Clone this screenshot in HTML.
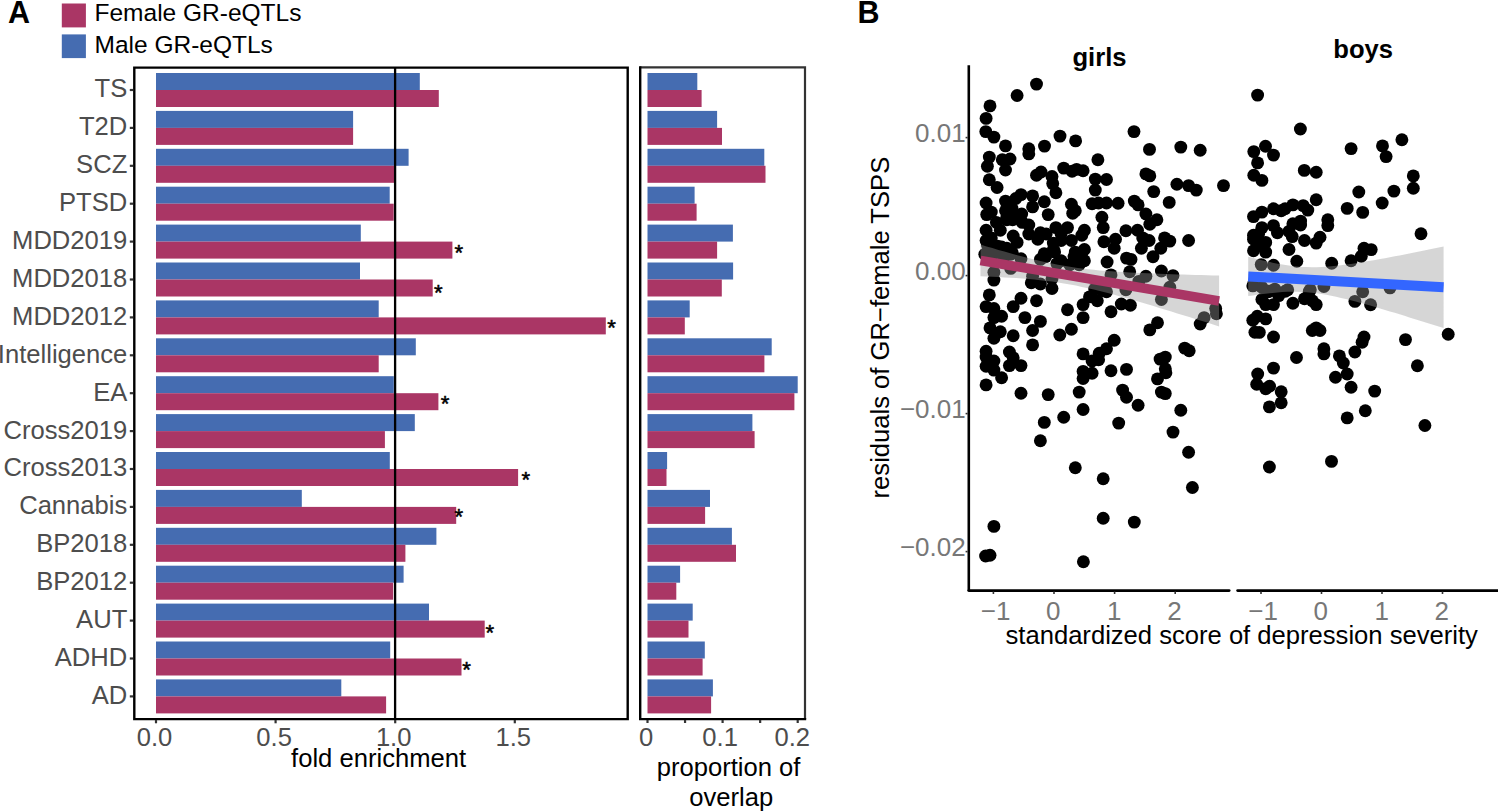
<!DOCTYPE html><html><head><meta charset="utf-8"><style>html,body{margin:0;padding:0;background:#fff;width:1498px;height:812px;overflow:hidden}svg{display:block}text{font-family:"Liberation Sans",sans-serif}</style></head><body>
<svg width="1498" height="812" viewBox="0 0 1498 812">
<rect width="1498" height="812" fill="#fff"/>
<text x="8" y="22.7" font-size="30.5" font-weight="bold" fill="#000">A</text>
<text x="857.5" y="22.6" font-size="30.5" font-weight="bold" fill="#000">B</text>
<rect x="61.8" y="3.5" width="24.1" height="23.9" fill="#AA3665"/>
<rect x="61.8" y="34.4" width="24.1" height="23.7" fill="#456CB1"/>
<text x="94.5" y="20.5" font-size="24.5" fill="#000">Female GR-eQTLs</text>
<text x="94.5" y="53.1" font-size="24.5" fill="#000">Male GR-eQTLs</text>
<rect x="156.0" y="73.00" width="263.80" height="17.0" fill="#456CB1"/>
<rect x="156.0" y="90.00" width="282.80" height="17.0" fill="#AA3665"/>
<rect x="156.0" y="110.90" width="197.10" height="17.0" fill="#456CB1"/>
<rect x="156.0" y="127.90" width="197.10" height="17.0" fill="#AA3665"/>
<rect x="156.0" y="148.80" width="252.60" height="17.0" fill="#456CB1"/>
<rect x="156.0" y="165.80" width="238.10" height="17.0" fill="#AA3665"/>
<rect x="156.0" y="186.70" width="233.70" height="17.0" fill="#456CB1"/>
<rect x="156.0" y="203.70" width="237.70" height="17.0" fill="#AA3665"/>
<rect x="156.0" y="224.60" width="204.80" height="17.0" fill="#456CB1"/>
<rect x="156.0" y="241.60" width="296.40" height="17.0" fill="#AA3665"/>
<rect x="156.0" y="262.50" width="204.00" height="17.0" fill="#456CB1"/>
<rect x="156.0" y="279.50" width="276.70" height="17.0" fill="#AA3665"/>
<rect x="156.0" y="300.40" width="222.70" height="17.0" fill="#456CB1"/>
<rect x="156.0" y="317.40" width="449.80" height="17.0" fill="#AA3665"/>
<rect x="156.0" y="338.30" width="259.80" height="17.0" fill="#456CB1"/>
<rect x="156.0" y="355.30" width="222.70" height="17.0" fill="#AA3665"/>
<rect x="156.0" y="376.20" width="237.80" height="17.0" fill="#456CB1"/>
<rect x="156.0" y="393.20" width="282.40" height="17.0" fill="#AA3665"/>
<rect x="156.0" y="414.10" width="258.80" height="17.0" fill="#456CB1"/>
<rect x="156.0" y="431.10" width="228.90" height="17.0" fill="#AA3665"/>
<rect x="156.0" y="452.00" width="233.80" height="17.0" fill="#456CB1"/>
<rect x="156.0" y="469.00" width="362.10" height="17.0" fill="#AA3665"/>
<rect x="156.0" y="489.90" width="145.80" height="17.0" fill="#456CB1"/>
<rect x="156.0" y="506.90" width="300.20" height="17.0" fill="#AA3665"/>
<rect x="156.0" y="527.80" width="280.40" height="17.0" fill="#456CB1"/>
<rect x="156.0" y="544.80" width="249.40" height="17.0" fill="#AA3665"/>
<rect x="156.0" y="565.70" width="247.60" height="17.0" fill="#456CB1"/>
<rect x="156.0" y="582.70" width="237.20" height="17.0" fill="#AA3665"/>
<rect x="156.0" y="603.60" width="273.00" height="17.0" fill="#456CB1"/>
<rect x="156.0" y="620.60" width="328.70" height="17.0" fill="#AA3665"/>
<rect x="156.0" y="641.50" width="234.20" height="17.0" fill="#456CB1"/>
<rect x="156.0" y="658.50" width="305.50" height="17.0" fill="#AA3665"/>
<rect x="156.0" y="679.40" width="185.30" height="17.0" fill="#456CB1"/>
<rect x="156.0" y="696.40" width="230.10" height="17.0" fill="#AA3665"/>
<rect x="647.5" y="73.00" width="49.80" height="17.0" fill="#456CB1"/>
<rect x="647.5" y="90.00" width="54.10" height="17.0" fill="#AA3665"/>
<rect x="647.5" y="110.90" width="69.60" height="17.0" fill="#456CB1"/>
<rect x="647.5" y="127.90" width="74.50" height="17.0" fill="#AA3665"/>
<rect x="647.5" y="148.80" width="116.80" height="17.0" fill="#456CB1"/>
<rect x="647.5" y="165.80" width="118.00" height="17.0" fill="#AA3665"/>
<rect x="647.5" y="186.70" width="47.10" height="17.0" fill="#456CB1"/>
<rect x="647.5" y="203.70" width="49.10" height="17.0" fill="#AA3665"/>
<rect x="647.5" y="224.60" width="85.40" height="17.0" fill="#456CB1"/>
<rect x="647.5" y="241.60" width="69.60" height="17.0" fill="#AA3665"/>
<rect x="647.5" y="262.50" width="85.60" height="17.0" fill="#456CB1"/>
<rect x="647.5" y="279.50" width="74.30" height="17.0" fill="#AA3665"/>
<rect x="647.5" y="300.40" width="42.20" height="17.0" fill="#456CB1"/>
<rect x="647.5" y="317.40" width="37.30" height="17.0" fill="#AA3665"/>
<rect x="647.5" y="338.30" width="124.20" height="17.0" fill="#456CB1"/>
<rect x="647.5" y="355.30" width="116.90" height="17.0" fill="#AA3665"/>
<rect x="647.5" y="376.20" width="150.20" height="17.0" fill="#456CB1"/>
<rect x="647.5" y="393.20" width="146.90" height="17.0" fill="#AA3665"/>
<rect x="647.5" y="414.10" width="104.90" height="17.0" fill="#456CB1"/>
<rect x="647.5" y="431.10" width="107.10" height="17.0" fill="#AA3665"/>
<rect x="647.5" y="452.00" width="19.60" height="17.0" fill="#456CB1"/>
<rect x="647.5" y="469.00" width="19.00" height="17.0" fill="#AA3665"/>
<rect x="647.5" y="489.90" width="62.50" height="17.0" fill="#456CB1"/>
<rect x="647.5" y="506.90" width="57.60" height="17.0" fill="#AA3665"/>
<rect x="647.5" y="527.80" width="84.40" height="17.0" fill="#456CB1"/>
<rect x="647.5" y="544.80" width="88.50" height="17.0" fill="#AA3665"/>
<rect x="647.5" y="565.70" width="32.60" height="17.0" fill="#456CB1"/>
<rect x="647.5" y="582.70" width="28.80" height="17.0" fill="#AA3665"/>
<rect x="647.5" y="603.60" width="45.20" height="17.0" fill="#456CB1"/>
<rect x="647.5" y="620.60" width="41.00" height="17.0" fill="#AA3665"/>
<rect x="647.5" y="641.50" width="57.30" height="17.0" fill="#456CB1"/>
<rect x="647.5" y="658.50" width="55.10" height="17.0" fill="#AA3665"/>
<rect x="647.5" y="679.40" width="65.40" height="17.0" fill="#456CB1"/>
<rect x="647.5" y="696.40" width="63.60" height="17.0" fill="#AA3665"/>
<text x="454.5" y="259.6" font-size="22.2" fill="#000" stroke="#000" stroke-width="0.5">*</text>
<text x="433.9" y="299.9" font-size="22.2" fill="#000" stroke="#000" stroke-width="0.5">*</text>
<text x="607.3" y="335.2" font-size="22.2" fill="#000" stroke="#000" stroke-width="0.5">*</text>
<text x="440.7" y="410.7" font-size="22.2" fill="#000" stroke="#000" stroke-width="0.5">*</text>
<text x="521.6" y="486.8" font-size="22.2" fill="#000" stroke="#000" stroke-width="0.5">*</text>
<text x="454.6" y="524.4" font-size="22.2" fill="#000" stroke="#000" stroke-width="0.5">*</text>
<text x="485.4" y="640.3" font-size="22.2" fill="#000" stroke="#000" stroke-width="0.5">*</text>
<text x="462.3" y="676.5" font-size="22.2" fill="#000" stroke="#000" stroke-width="0.5">*</text>
<line x1="395.1" y1="67.5" x2="395.1" y2="719" stroke="#000" stroke-width="2.3"/>
<path d="M134.3 67.6 H627.7 V719.1 H134.3 Z" fill="none" stroke="#000" stroke-width="2.4"/>
<path d="M640.2 67.4 H805 V719.1" fill="none" stroke="#333" stroke-width="2.2"/>
<path d="M640.2 67.4 V719.1 H805" fill="none" stroke="#000" stroke-width="2.4" stroke-linecap="square"/>
<line x1="129.8" y1="90.00" x2="133" y2="90.00" stroke="#333" stroke-width="2.2"/>
<text x="127.3" y="97.40" font-size="25.6" fill="#4D4D4D" text-anchor="end">TS</text>
<line x1="129.8" y1="127.90" x2="133" y2="127.90" stroke="#333" stroke-width="2.2"/>
<text x="127.3" y="135.30" font-size="25.6" fill="#4D4D4D" text-anchor="end">T2D</text>
<line x1="129.8" y1="165.80" x2="133" y2="165.80" stroke="#333" stroke-width="2.2"/>
<text x="127.3" y="173.20" font-size="25.6" fill="#4D4D4D" text-anchor="end">SCZ</text>
<line x1="129.8" y1="203.70" x2="133" y2="203.70" stroke="#333" stroke-width="2.2"/>
<text x="127.3" y="211.10" font-size="25.6" fill="#4D4D4D" text-anchor="end">PTSD</text>
<line x1="129.8" y1="241.60" x2="133" y2="241.60" stroke="#333" stroke-width="2.2"/>
<text x="127.3" y="249.00" font-size="25.6" fill="#4D4D4D" text-anchor="end">MDD2019</text>
<line x1="129.8" y1="279.50" x2="133" y2="279.50" stroke="#333" stroke-width="2.2"/>
<text x="127.3" y="286.90" font-size="25.6" fill="#4D4D4D" text-anchor="end">MDD2018</text>
<line x1="129.8" y1="317.40" x2="133" y2="317.40" stroke="#333" stroke-width="2.2"/>
<text x="127.3" y="324.80" font-size="25.6" fill="#4D4D4D" text-anchor="end">MDD2012</text>
<line x1="129.8" y1="355.30" x2="133" y2="355.30" stroke="#333" stroke-width="2.2"/>
<text x="127.3" y="362.70" font-size="25.6" fill="#4D4D4D" text-anchor="end">Intelligence</text>
<line x1="129.8" y1="393.20" x2="133" y2="393.20" stroke="#333" stroke-width="2.2"/>
<text x="127.3" y="400.60" font-size="25.6" fill="#4D4D4D" text-anchor="end">EA</text>
<line x1="129.8" y1="431.10" x2="133" y2="431.10" stroke="#333" stroke-width="2.2"/>
<text x="127.3" y="438.50" font-size="25.6" fill="#4D4D4D" text-anchor="end">Cross2019</text>
<line x1="129.8" y1="469.00" x2="133" y2="469.00" stroke="#333" stroke-width="2.2"/>
<text x="127.3" y="476.40" font-size="25.6" fill="#4D4D4D" text-anchor="end">Cross2013</text>
<line x1="129.8" y1="506.90" x2="133" y2="506.90" stroke="#333" stroke-width="2.2"/>
<text x="127.3" y="514.30" font-size="25.6" fill="#4D4D4D" text-anchor="end">Cannabis</text>
<line x1="129.8" y1="544.80" x2="133" y2="544.80" stroke="#333" stroke-width="2.2"/>
<text x="127.3" y="552.20" font-size="25.6" fill="#4D4D4D" text-anchor="end">BP2018</text>
<line x1="129.8" y1="582.70" x2="133" y2="582.70" stroke="#333" stroke-width="2.2"/>
<text x="127.3" y="590.10" font-size="25.6" fill="#4D4D4D" text-anchor="end">BP2012</text>
<line x1="129.8" y1="620.60" x2="133" y2="620.60" stroke="#333" stroke-width="2.2"/>
<text x="127.3" y="628.00" font-size="25.6" fill="#4D4D4D" text-anchor="end">AUT</text>
<line x1="129.8" y1="658.50" x2="133" y2="658.50" stroke="#333" stroke-width="2.2"/>
<text x="127.3" y="665.90" font-size="25.6" fill="#4D4D4D" text-anchor="end">ADHD</text>
<line x1="129.8" y1="696.40" x2="133" y2="696.40" stroke="#333" stroke-width="2.2"/>
<text x="127.3" y="703.80" font-size="25.6" fill="#4D4D4D" text-anchor="end">AD</text>
<line x1="156.00" y1="720" x2="156.00" y2="723.3" stroke="#333" stroke-width="2.2"/>
<text x="154.50" y="746.2" font-size="25.6" fill="#4D4D4D" text-anchor="middle">0.0</text>
<line x1="275.60" y1="720" x2="275.60" y2="723.3" stroke="#333" stroke-width="2.2"/>
<text x="274.10" y="746.2" font-size="25.6" fill="#4D4D4D" text-anchor="middle">0.5</text>
<line x1="395.20" y1="720" x2="395.20" y2="723.3" stroke="#333" stroke-width="2.2"/>
<text x="393.70" y="746.2" font-size="25.6" fill="#4D4D4D" text-anchor="middle">1.0</text>
<line x1="514.80" y1="720" x2="514.80" y2="723.3" stroke="#333" stroke-width="2.2"/>
<text x="513.30" y="746.2" font-size="25.6" fill="#4D4D4D" text-anchor="middle">1.5</text>
<line x1="647.50" y1="720" x2="647.50" y2="723" stroke="#333" stroke-width="2.2"/>
<line x1="685.05" y1="720" x2="685.05" y2="723" stroke="#333" stroke-width="2.2"/>
<line x1="722.60" y1="720" x2="722.60" y2="723" stroke="#333" stroke-width="2.2"/>
<line x1="760.15" y1="720" x2="760.15" y2="723" stroke="#333" stroke-width="2.2"/>
<line x1="797.70" y1="720" x2="797.70" y2="723" stroke="#333" stroke-width="2.2"/>
<text x="646.00" y="746.2" font-size="25.6" fill="#4D4D4D" text-anchor="middle">0</text>
<text x="720.10" y="746.2" font-size="25.6" fill="#4D4D4D" text-anchor="middle">0.1</text>
<text x="792.30" y="746.2" font-size="25.6" fill="#4D4D4D" text-anchor="middle">0.2</text>
<text x="378.6" y="767.2" font-size="25.6" fill="#000" text-anchor="middle">fold enrichment</text>
<text x="728.6" y="775.7" font-size="25.6" fill="#000" text-anchor="middle">proportion of</text>
<text x="731.3" y="806.4" font-size="25.6" fill="#000" text-anchor="middle">overlap</text>
<text x="1099.5" y="65.5" font-size="25.6" font-weight="bold" fill="#000" text-anchor="middle">girls</text>
<text x="1363.2" y="58.4" font-size="25.6" font-weight="bold" fill="#000" text-anchor="middle">boys</text>
<g fill="#000"><circle cx="1036.5" cy="84.1" r="6.45"/><circle cx="1017.1" cy="95.5" r="6.45"/><circle cx="990.0" cy="105.9" r="6.45"/><circle cx="986.1" cy="118.4" r="6.45"/><circle cx="985.8" cy="131.6" r="6.45"/><circle cx="993.9" cy="137.1" r="6.45"/><circle cx="1005.5" cy="145.9" r="6.45"/><circle cx="1028.8" cy="148.8" r="6.45"/><circle cx="1044.5" cy="146.1" r="6.45"/><circle cx="1060.0" cy="136.1" r="6.45"/><circle cx="1075.6" cy="140.9" r="6.45"/><circle cx="989.3" cy="157.1" r="6.45"/><circle cx="987.4" cy="166.2" r="6.45"/><circle cx="1002.3" cy="159.7" r="6.45"/><circle cx="1010.0" cy="159.0" r="6.45"/><circle cx="1005.5" cy="170.0" r="6.45"/><circle cx="1028.8" cy="153.9" r="6.45"/><circle cx="1097.9" cy="159.7" r="6.45"/><circle cx="1063.7" cy="168.1" r="6.45"/><circle cx="1072.1" cy="171.3" r="6.45"/><circle cx="1076.6" cy="169.4" r="6.45"/><circle cx="1083.1" cy="170.7" r="6.45"/><circle cx="1036.5" cy="175.2" r="6.45"/><circle cx="1041.0" cy="172.0" r="6.45"/><circle cx="1052.0" cy="176.5" r="6.45"/><circle cx="1052.7" cy="183.6" r="6.45"/><circle cx="1055.9" cy="192.7" r="6.45"/><circle cx="1095.3" cy="179.1" r="6.45"/><circle cx="1095.3" cy="190.1" r="6.45"/><circle cx="989.3" cy="179.7" r="6.45"/><circle cx="997.1" cy="187.5" r="6.45"/><circle cx="986.1" cy="203.0" r="6.45"/><circle cx="986.7" cy="214.6" r="6.45"/><circle cx="991.3" cy="212.1" r="6.45"/><circle cx="1005.5" cy="201.1" r="6.45"/><circle cx="1021.0" cy="194.6" r="6.45"/><circle cx="1015.8" cy="198.5" r="6.45"/><circle cx="1032.6" cy="195.9" r="6.45"/><circle cx="1032.6" cy="206.9" r="6.45"/><circle cx="1044.3" cy="201.7" r="6.45"/><circle cx="1048.2" cy="214.6" r="6.45"/><circle cx="1071.4" cy="204.3" r="6.45"/><circle cx="1075.3" cy="210.8" r="6.45"/><circle cx="1072.7" cy="213.3" r="6.45"/><circle cx="1092.1" cy="203.7" r="6.45"/><circle cx="1098.6" cy="203.0" r="6.45"/><circle cx="986.1" cy="230.2" r="6.45"/><circle cx="1000.3" cy="230.2" r="6.45"/><circle cx="1005.5" cy="210.8" r="6.45"/><circle cx="1012.6" cy="219.8" r="6.45"/><circle cx="1021.7" cy="214.0" r="6.45"/><circle cx="1028.8" cy="225.0" r="6.45"/><circle cx="1013.2" cy="236.0" r="6.45"/><circle cx="1017.1" cy="242.4" r="6.45"/><circle cx="986.1" cy="240.5" r="6.45"/><circle cx="991.3" cy="237.9" r="6.45"/><circle cx="1001.6" cy="247.0" r="6.45"/><circle cx="996.4" cy="222.4" r="6.45"/><circle cx="1006.8" cy="217.2" r="6.45"/><circle cx="1028.8" cy="234.0" r="6.45"/><circle cx="1037.8" cy="239.2" r="6.45"/><circle cx="1046.2" cy="234.0" r="6.45"/><circle cx="1055.9" cy="227.6" r="6.45"/><circle cx="1067.5" cy="227.6" r="6.45"/><circle cx="1053.3" cy="243.1" r="6.45"/><circle cx="1053.3" cy="249.5" r="6.45"/><circle cx="1061.1" cy="234.0" r="6.45"/><circle cx="1071.4" cy="240.5" r="6.45"/><circle cx="1084.4" cy="230.2" r="6.45"/><circle cx="1081.8" cy="235.3" r="6.45"/><circle cx="1084.4" cy="249.5" r="6.45"/><circle cx="1075.3" cy="252.1" r="6.45"/><circle cx="1134.0" cy="131.6" r="6.45"/><circle cx="1149.5" cy="149.4" r="6.45"/><circle cx="1180.8" cy="147.1" r="6.45"/><circle cx="1200.2" cy="150.3" r="6.45"/><circle cx="1145.9" cy="173.9" r="6.45"/><circle cx="1149.8" cy="175.9" r="6.45"/><circle cx="1106.5" cy="179.5" r="6.45"/><circle cx="1153.7" cy="191.6" r="6.45"/><circle cx="1176.9" cy="184.3" r="6.45"/><circle cx="1188.6" cy="185.6" r="6.45"/><circle cx="1196.3" cy="190.1" r="6.45"/><circle cx="1223.5" cy="185.6" r="6.45"/><circle cx="1106.5" cy="203.0" r="6.45"/><circle cx="1118.1" cy="203.3" r="6.45"/><circle cx="1134.3" cy="201.1" r="6.45"/><circle cx="1138.1" cy="204.9" r="6.45"/><circle cx="1169.2" cy="202.4" r="6.45"/><circle cx="1145.9" cy="214.0" r="6.45"/><circle cx="1156.9" cy="219.8" r="6.45"/><circle cx="1149.8" cy="224.3" r="6.45"/><circle cx="1101.9" cy="217.2" r="6.45"/><circle cx="1103.2" cy="227.6" r="6.45"/><circle cx="1125.9" cy="230.8" r="6.45"/><circle cx="1137.5" cy="230.2" r="6.45"/><circle cx="1115.5" cy="239.2" r="6.45"/><circle cx="1103.9" cy="241.8" r="6.45"/><circle cx="1114.2" cy="248.3" r="6.45"/><circle cx="1142.7" cy="237.9" r="6.45"/><circle cx="1149.1" cy="240.5" r="6.45"/><circle cx="1141.4" cy="248.3" r="6.45"/><circle cx="1164.6" cy="237.9" r="6.45"/><circle cx="1169.8" cy="241.1" r="6.45"/><circle cx="1160.8" cy="248.3" r="6.45"/><circle cx="1188.6" cy="240.5" r="6.45"/><circle cx="984.8" cy="254.2" r="6.45"/><circle cx="1000.3" cy="252.9" r="6.45"/><circle cx="1010.7" cy="254.2" r="6.45"/><circle cx="1021.0" cy="258.7" r="6.45"/><circle cx="993.9" cy="272.3" r="6.45"/><circle cx="993.9" cy="280.1" r="6.45"/><circle cx="1010.7" cy="268.4" r="6.45"/><circle cx="1032.6" cy="276.2" r="6.45"/><circle cx="1031.3" cy="282.7" r="6.45"/><circle cx="1040.4" cy="284.0" r="6.45"/><circle cx="1052.0" cy="278.8" r="6.45"/><circle cx="1052.0" cy="288.5" r="6.45"/><circle cx="1045.6" cy="256.8" r="6.45"/><circle cx="1040.4" cy="259.4" r="6.45"/><circle cx="1061.1" cy="260.7" r="6.45"/><circle cx="1074.0" cy="256.8" r="6.45"/><circle cx="1081.8" cy="252.9" r="6.45"/><circle cx="1084.4" cy="260.7" r="6.45"/><circle cx="1094.7" cy="289.1" r="6.45"/><circle cx="1097.3" cy="300.8" r="6.45"/><circle cx="1089.5" cy="296.9" r="6.45"/><circle cx="1083.1" cy="304.6" r="6.45"/><circle cx="1083.1" cy="317.6" r="6.45"/><circle cx="1067.5" cy="309.8" r="6.45"/><circle cx="1036.5" cy="300.8" r="6.45"/><circle cx="1021.0" cy="298.2" r="6.45"/><circle cx="1013.2" cy="306.6" r="6.45"/><circle cx="989.3" cy="294.9" r="6.45"/><circle cx="986.1" cy="306.6" r="6.45"/><circle cx="993.9" cy="308.5" r="6.45"/><circle cx="1001.6" cy="316.3" r="6.45"/><circle cx="993.9" cy="317.6" r="6.45"/><circle cx="990.0" cy="327.9" r="6.45"/><circle cx="1000.3" cy="331.8" r="6.45"/><circle cx="993.9" cy="338.3" r="6.45"/><circle cx="1024.9" cy="317.6" r="6.45"/><circle cx="1040.4" cy="321.4" r="6.45"/><circle cx="1032.6" cy="330.5" r="6.45"/><circle cx="1013.2" cy="335.7" r="6.45"/><circle cx="1059.8" cy="335.0" r="6.45"/><circle cx="1071.4" cy="329.2" r="6.45"/><circle cx="1126.5" cy="258.1" r="6.45"/><circle cx="1131.0" cy="259.4" r="6.45"/><circle cx="1153.0" cy="256.8" r="6.45"/><circle cx="1107.1" cy="262.0" r="6.45"/><circle cx="1129.7" cy="271.7" r="6.45"/><circle cx="1145.9" cy="276.2" r="6.45"/><circle cx="1138.8" cy="281.4" r="6.45"/><circle cx="1161.4" cy="271.0" r="6.45"/><circle cx="1173.0" cy="275.6" r="6.45"/><circle cx="1169.8" cy="287.2" r="6.45"/><circle cx="1161.4" cy="299.5" r="6.45"/><circle cx="1111.0" cy="274.9" r="6.45"/><circle cx="1125.9" cy="289.8" r="6.45"/><circle cx="1106.5" cy="291.7" r="6.45"/><circle cx="1121.3" cy="304.0" r="6.45"/><circle cx="1130.4" cy="305.3" r="6.45"/><circle cx="1111.0" cy="311.8" r="6.45"/><circle cx="1157.5" cy="322.7" r="6.45"/><circle cx="1149.8" cy="329.9" r="6.45"/><circle cx="1215.7" cy="308.5" r="6.45"/><circle cx="1216.4" cy="313.7" r="6.45"/><circle cx="1204.1" cy="317.6" r="6.45"/><circle cx="1200.2" cy="324.0" r="6.45"/><circle cx="1114.2" cy="340.2" r="6.45"/><circle cx="1032.6" cy="344.9" r="6.45"/><circle cx="986.1" cy="351.3" r="6.45"/><circle cx="986.1" cy="357.1" r="6.45"/><circle cx="993.9" cy="361.0" r="6.45"/><circle cx="986.1" cy="366.2" r="6.45"/><circle cx="993.9" cy="370.1" r="6.45"/><circle cx="1001.6" cy="377.8" r="6.45"/><circle cx="1009.4" cy="352.0" r="6.45"/><circle cx="1013.2" cy="357.8" r="6.45"/><circle cx="1009.4" cy="365.6" r="6.45"/><circle cx="1021.0" cy="365.6" r="6.45"/><circle cx="986.1" cy="384.9" r="6.45"/><circle cx="1021.0" cy="393.3" r="6.45"/><circle cx="1048.2" cy="394.6" r="6.45"/><circle cx="1083.1" cy="353.9" r="6.45"/><circle cx="1092.1" cy="361.0" r="6.45"/><circle cx="1099.2" cy="353.3" r="6.45"/><circle cx="1098.6" cy="359.7" r="6.45"/><circle cx="1083.1" cy="371.4" r="6.45"/><circle cx="1092.1" cy="373.3" r="6.45"/><circle cx="1083.1" cy="378.5" r="6.45"/><circle cx="1079.2" cy="392.1" r="6.45"/><circle cx="1083.1" cy="409.5" r="6.45"/><circle cx="1063.7" cy="417.3" r="6.45"/><circle cx="1044.3" cy="422.4" r="6.45"/><circle cx="1106.5" cy="348.7" r="6.45"/><circle cx="1111.0" cy="370.7" r="6.45"/><circle cx="1126.5" cy="369.4" r="6.45"/><circle cx="1122.6" cy="390.1" r="6.45"/><circle cx="1126.5" cy="397.2" r="6.45"/><circle cx="1138.1" cy="405.2" r="6.45"/><circle cx="1118.7" cy="423.1" r="6.45"/><circle cx="1165.3" cy="357.1" r="6.45"/><circle cx="1160.1" cy="359.1" r="6.45"/><circle cx="1165.3" cy="368.8" r="6.45"/><circle cx="1165.9" cy="372.7" r="6.45"/><circle cx="1157.5" cy="378.9" r="6.45"/><circle cx="1161.4" cy="392.1" r="6.45"/><circle cx="1165.3" cy="393.6" r="6.45"/><circle cx="1184.7" cy="348.1" r="6.45"/><circle cx="1189.2" cy="350.7" r="6.45"/><circle cx="1180.8" cy="410.2" r="6.45"/><circle cx="1173.0" cy="432.1" r="6.45"/><circle cx="1040.4" cy="440.7" r="6.45"/><circle cx="1075.3" cy="467.8" r="6.45"/><circle cx="1188.6" cy="452.3" r="6.45"/><circle cx="1103.2" cy="478.8" r="6.45"/><circle cx="1192.4" cy="487.5" r="6.45"/><circle cx="1103.2" cy="518.3" r="6.45"/><circle cx="1134.3" cy="522.1" r="6.45"/><circle cx="993.9" cy="526.4" r="6.45"/><circle cx="985.6" cy="556.0" r="6.45"/><circle cx="990.0" cy="555.2" r="6.45"/><circle cx="1083.4" cy="561.7" r="6.45"/><circle cx="1012.0" cy="208.2" r="6.45"/><circle cx="1017.1" cy="217.2" r="6.45"/><circle cx="1006.8" cy="219.8" r="6.45"/><circle cx="1022.3" cy="222.4" r="6.45"/><circle cx="1040.4" cy="232.7" r="6.45"/><circle cx="1061.1" cy="240.5" r="6.45"/><circle cx="987.4" cy="245.0" r="6.45"/><circle cx="997.7" cy="246.3" r="6.45"/><circle cx="1006.8" cy="248.3" r="6.45"/><circle cx="992.9" cy="253.9" r="6.45"/><circle cx="1003.9" cy="257.6" r="6.45"/><circle cx="1012.3" cy="252.7" r="6.45"/><circle cx="1056.9" cy="263.6" r="6.45"/><circle cx="1069.8" cy="264.8" r="6.45"/><circle cx="1079.2" cy="264.8" r="6.45"/><circle cx="1102.6" cy="290.5" r="6.45"/><circle cx="1044.1" cy="253.7" r="6.45"/><circle cx="1054.6" cy="251.9" r="6.45"/><circle cx="1257.6" cy="95.1" r="6.45"/><circle cx="1300.4" cy="129.0" r="6.45"/><circle cx="1351.1" cy="148.6" r="6.45"/><circle cx="1253.8" cy="151.6" r="6.45"/><circle cx="1265.5" cy="146.2" r="6.45"/><circle cx="1273.5" cy="155.1" r="6.45"/><circle cx="1257.6" cy="162.9" r="6.45"/><circle cx="1382.5" cy="145.9" r="6.45"/><circle cx="1386.1" cy="156.6" r="6.45"/><circle cx="1401.9" cy="139.8" r="6.45"/><circle cx="1253.8" cy="175.2" r="6.45"/><circle cx="1261.9" cy="180.4" r="6.45"/><circle cx="1304.3" cy="170.4" r="6.45"/><circle cx="1316.2" cy="172.2" r="6.45"/><circle cx="1358.8" cy="192.0" r="6.45"/><circle cx="1347.2" cy="208.4" r="6.45"/><circle cx="1362.7" cy="212.4" r="6.45"/><circle cx="1316.2" cy="199.8" r="6.45"/><circle cx="1307.8" cy="210.1" r="6.45"/><circle cx="1303.2" cy="205.6" r="6.45"/><circle cx="1292.9" cy="204.9" r="6.45"/><circle cx="1281.2" cy="210.8" r="6.45"/><circle cx="1285.1" cy="208.8" r="6.45"/><circle cx="1273.5" cy="208.8" r="6.45"/><circle cx="1261.9" cy="212.1" r="6.45"/><circle cx="1253.5" cy="216.6" r="6.45"/><circle cx="1327.8" cy="219.8" r="6.45"/><circle cx="1327.8" cy="225.6" r="6.45"/><circle cx="1300.6" cy="221.1" r="6.45"/><circle cx="1300.6" cy="225.0" r="6.45"/><circle cx="1292.9" cy="223.7" r="6.45"/><circle cx="1273.5" cy="225.6" r="6.45"/><circle cx="1277.4" cy="232.7" r="6.45"/><circle cx="1261.9" cy="227.6" r="6.45"/><circle cx="1253.5" cy="235.3" r="6.45"/><circle cx="1253.5" cy="239.2" r="6.45"/><circle cx="1265.7" cy="242.4" r="6.45"/><circle cx="1292.2" cy="236.6" r="6.45"/><circle cx="1289.0" cy="231.4" r="6.45"/><circle cx="1304.5" cy="240.5" r="6.45"/><circle cx="1320.0" cy="237.3" r="6.45"/><circle cx="1316.2" cy="243.1" r="6.45"/><circle cx="1289.0" cy="249.5" r="6.45"/><circle cx="1253.5" cy="250.8" r="6.45"/><circle cx="1265.7" cy="252.1" r="6.45"/><circle cx="1364.0" cy="248.3" r="6.45"/><circle cx="1413.3" cy="175.9" r="6.45"/><circle cx="1413.3" cy="188.2" r="6.45"/><circle cx="1393.9" cy="191.1" r="6.45"/><circle cx="1382.2" cy="203.0" r="6.45"/><circle cx="1421.0" cy="233.8" r="6.45"/><circle cx="1371.2" cy="249.6" r="6.45"/><circle cx="1296.8" cy="261.3" r="6.45"/><circle cx="1261.2" cy="264.6" r="6.45"/><circle cx="1273.5" cy="265.2" r="6.45"/><circle cx="1331.7" cy="263.3" r="6.45"/><circle cx="1351.1" cy="260.7" r="6.45"/><circle cx="1252.8" cy="285.9" r="6.45"/><circle cx="1261.9" cy="287.2" r="6.45"/><circle cx="1274.8" cy="289.1" r="6.45"/><circle cx="1287.7" cy="289.8" r="6.45"/><circle cx="1268.3" cy="291.7" r="6.45"/><circle cx="1310.3" cy="289.8" r="6.45"/><circle cx="1323.9" cy="286.5" r="6.45"/><circle cx="1362.7" cy="291.7" r="6.45"/><circle cx="1354.9" cy="301.4" r="6.45"/><circle cx="1261.9" cy="299.5" r="6.45"/><circle cx="1265.7" cy="304.6" r="6.45"/><circle cx="1273.5" cy="304.6" r="6.45"/><circle cx="1278.7" cy="295.6" r="6.45"/><circle cx="1292.9" cy="303.3" r="6.45"/><circle cx="1304.5" cy="298.8" r="6.45"/><circle cx="1316.2" cy="304.6" r="6.45"/><circle cx="1312.3" cy="300.8" r="6.45"/><circle cx="1257.3" cy="316.3" r="6.45"/><circle cx="1265.7" cy="318.9" r="6.45"/><circle cx="1252.8" cy="320.2" r="6.45"/><circle cx="1259.3" cy="332.4" r="6.45"/><circle cx="1273.5" cy="337.0" r="6.45"/><circle cx="1312.3" cy="330.5" r="6.45"/><circle cx="1320.0" cy="330.5" r="6.45"/><circle cx="1316.2" cy="327.9" r="6.45"/><circle cx="1364.0" cy="337.0" r="6.45"/><circle cx="1390.0" cy="287.9" r="6.45"/><circle cx="1370.6" cy="304.7" r="6.45"/><circle cx="1448.2" cy="334.2" r="6.45"/><circle cx="1405.5" cy="339.6" r="6.45"/><circle cx="1362.1" cy="342.3" r="6.45"/><circle cx="1296.5" cy="357.5" r="6.45"/><circle cx="1323.9" cy="348.7" r="6.45"/><circle cx="1323.9" cy="353.9" r="6.45"/><circle cx="1339.4" cy="355.9" r="6.45"/><circle cx="1343.3" cy="363.0" r="6.45"/><circle cx="1354.9" cy="352.0" r="6.45"/><circle cx="1347.2" cy="374.0" r="6.45"/><circle cx="1335.5" cy="377.2" r="6.45"/><circle cx="1351.1" cy="387.3" r="6.45"/><circle cx="1365.3" cy="410.8" r="6.45"/><circle cx="1347.2" cy="417.9" r="6.45"/><circle cx="1273.5" cy="368.1" r="6.45"/><circle cx="1257.7" cy="374.0" r="6.45"/><circle cx="1256.7" cy="384.3" r="6.45"/><circle cx="1265.7" cy="388.8" r="6.45"/><circle cx="1269.6" cy="386.2" r="6.45"/><circle cx="1281.2" cy="391.8" r="6.45"/><circle cx="1281.2" cy="402.8" r="6.45"/><circle cx="1269.4" cy="406.9" r="6.45"/><circle cx="1417.4" cy="365.8" r="6.45"/><circle cx="1374.7" cy="391.1" r="6.45"/><circle cx="1424.9" cy="425.5" r="6.45"/><circle cx="1269.4" cy="467.0" r="6.45"/><circle cx="1331.5" cy="461.4" r="6.45"/><circle cx="1254.9" cy="332.3" r="6.45"/><circle cx="1258.6" cy="234.0" r="6.45"/><circle cx="1258.0" cy="245.7" r="6.45"/><circle cx="1309.3" cy="291.3" r="6.45"/><circle cx="1285.3" cy="291.3" r="6.45"/><circle cx="1268.9" cy="291.3" r="6.45"/><circle cx="1361.3" cy="256.2" r="6.45"/></g>
<path d="M980.5 244.6 L986.5 246.4 L992.4 248.1 L998.4 249.9 L1004.4 251.6 L1010.3 253.2 L1016.3 254.9 L1022.3 256.5 L1028.2 258.0 L1034.2 259.5 L1040.2 260.9 L1046.1 262.3 L1052.1 263.5 L1058.0 264.7 L1064.0 265.8 L1070.0 266.8 L1075.9 267.7 L1081.9 268.5 L1087.9 269.2 L1093.8 269.8 L1099.8 270.4 L1105.8 270.9 L1111.7 271.3 L1117.7 271.7 L1123.7 272.1 L1129.6 272.5 L1135.6 272.8 L1141.6 273.1 L1147.5 273.3 L1153.5 273.6 L1159.4 273.8 L1165.4 274.0 L1171.4 274.2 L1177.3 274.4 L1183.3 274.6 L1189.3 274.8 L1195.2 275.0 L1201.2 275.1 L1207.2 275.3 L1213.1 275.4 L1219.1 275.6 L1219.1 326.4 L1213.1 324.5 L1207.2 322.6 L1201.2 320.8 L1195.2 318.9 L1189.3 317.1 L1183.3 315.2 L1177.3 313.4 L1171.4 311.5 L1165.4 309.7 L1159.4 307.9 L1153.5 306.1 L1147.5 304.3 L1141.6 302.6 L1135.6 300.8 L1129.6 299.1 L1123.7 297.4 L1117.7 295.7 L1111.7 294.1 L1105.8 292.5 L1099.8 291.0 L1093.8 289.6 L1087.9 288.2 L1081.9 286.9 L1075.9 285.6 L1070.0 284.5 L1064.0 283.4 L1058.0 282.5 L1052.1 281.6 L1046.1 280.9 L1040.2 280.2 L1034.2 279.6 L1028.2 279.0 L1022.3 278.6 L1016.3 278.1 L1010.3 277.7 L1004.4 277.4 L998.4 277.0 L992.4 276.7 L986.5 276.5 L980.5 276.2 Z" fill="#999" fill-opacity="0.4"/>
<path d="M1248.2 256.7 L1253.1 258.0 L1258.0 259.2 L1262.9 260.5 L1267.7 261.6 L1272.6 262.7 L1277.5 263.7 L1282.4 264.5 L1287.3 265.3 L1292.2 266.0 L1297.0 266.5 L1301.9 266.9 L1306.8 267.1 L1311.7 267.2 L1316.6 267.2 L1321.5 267.0 L1326.4 266.7 L1331.2 266.3 L1336.1 265.8 L1341.0 265.3 L1345.9 264.6 L1350.8 264.0 L1355.7 263.2 L1360.6 262.5 L1365.4 261.6 L1370.3 260.8 L1375.2 259.9 L1380.1 259.1 L1385.0 258.2 L1389.9 257.2 L1394.8 256.3 L1399.6 255.4 L1404.5 254.4 L1409.4 253.4 L1414.3 252.5 L1419.2 251.5 L1424.1 250.5 L1428.9 249.5 L1433.8 248.5 L1438.7 247.5 L1443.6 246.5 L1443.6 328.1 L1438.7 326.6 L1433.8 325.0 L1428.9 323.5 L1424.1 321.9 L1419.2 320.4 L1414.3 318.9 L1409.4 317.4 L1404.5 315.8 L1399.6 314.3 L1394.8 312.8 L1389.9 311.4 L1385.0 309.9 L1380.1 308.5 L1375.2 307.0 L1370.3 305.6 L1365.4 304.2 L1360.6 302.9 L1355.7 301.6 L1350.8 300.3 L1345.9 299.1 L1341.0 297.9 L1336.1 296.8 L1331.2 295.8 L1326.4 294.8 L1321.5 294.0 L1316.6 293.3 L1311.7 292.7 L1306.8 292.2 L1301.9 291.9 L1297.0 291.7 L1292.2 291.7 L1287.3 291.8 L1282.4 292.1 L1277.5 292.4 L1272.6 292.9 L1267.7 293.4 L1262.9 294.0 L1258.0 294.6 L1253.1 295.4 L1248.2 296.1 Z" fill="#999" fill-opacity="0.4"/>
<line x1="980.5" y1="260.4" x2="1219.1" y2="301.0" stroke="#AA3665" stroke-width="9.6"/>
<line x1="1248.2" y1="276.4" x2="1443.6" y2="287.3" stroke="#3366FF" stroke-width="10"/>
<line x1="968.8" y1="65.3" x2="968.8" y2="591.3" stroke="#000" stroke-width="2.6"/>
<line x1="968.8" y1="590.6" x2="1229.2" y2="590.6" stroke="#000" stroke-width="2.7" stroke-linecap="round"/>
<line x1="1237.6" y1="590.6" x2="1500" y2="590.6" stroke="#000" stroke-width="2.7" stroke-linecap="round"/>
<line x1="965.6" y1="137.6" x2="967.6" y2="137.6" stroke="#333" stroke-width="1.6"/>
<text x="965.7" y="141.9" font-size="26" fill="#777" text-anchor="end">0.01</text>
<line x1="965.6" y1="275.6" x2="967.6" y2="275.6" stroke="#333" stroke-width="1.6"/>
<text x="965.7" y="279.9" font-size="26" fill="#777" text-anchor="end">0.00</text>
<line x1="965.6" y1="413.6" x2="967.6" y2="413.6" stroke="#333" stroke-width="1.6"/>
<text x="965.7" y="417.9" font-size="26" fill="#777" text-anchor="end">−0.01</text>
<line x1="965.6" y1="551.6" x2="967.6" y2="551.6" stroke="#333" stroke-width="1.6"/>
<text x="965.7" y="555.9" font-size="26" fill="#777" text-anchor="end">−0.02</text>
<line x1="993.4" y1="591.5" x2="993.4" y2="594" stroke="#333" stroke-width="1.6"/>
<text x="995.6" y="619.7" font-size="26" fill="#777" text-anchor="middle">−1</text>
<line x1="1054.0" y1="591.5" x2="1054.0" y2="594" stroke="#333" stroke-width="1.6"/>
<text x="1053.2" y="619.7" font-size="26" fill="#777" text-anchor="middle">0</text>
<line x1="1114.6" y1="591.5" x2="1114.6" y2="594" stroke="#333" stroke-width="1.6"/>
<text x="1114.3" y="619.7" font-size="26" fill="#777" text-anchor="middle">1</text>
<line x1="1175.2" y1="591.5" x2="1175.2" y2="594" stroke="#333" stroke-width="1.6"/>
<text x="1174.4" y="619.7" font-size="26" fill="#777" text-anchor="middle">2</text>
<line x1="1261.0" y1="591.5" x2="1261.0" y2="594" stroke="#333" stroke-width="1.6"/>
<text x="1263.2" y="619.7" font-size="26" fill="#777" text-anchor="middle">−1</text>
<line x1="1321.5" y1="591.5" x2="1321.5" y2="594" stroke="#333" stroke-width="1.6"/>
<text x="1320.7" y="619.7" font-size="26" fill="#777" text-anchor="middle">0</text>
<line x1="1382.0" y1="591.5" x2="1382.0" y2="594" stroke="#333" stroke-width="1.6"/>
<text x="1381.7" y="619.7" font-size="26" fill="#777" text-anchor="middle">1</text>
<line x1="1442.5" y1="591.5" x2="1442.5" y2="594" stroke="#333" stroke-width="1.6"/>
<text x="1441.7" y="619.7" font-size="26" fill="#777" text-anchor="middle">2</text>
<text x="1241.7" y="644.4" font-size="25.6" fill="#000" text-anchor="middle">standardized score of depression severity</text>
<text transform="translate(889,327.6) rotate(-90)" x="0" y="0" font-size="25.6" fill="#000" text-anchor="middle">residuals of GR−female TSPS</text>
</svg></body></html>
